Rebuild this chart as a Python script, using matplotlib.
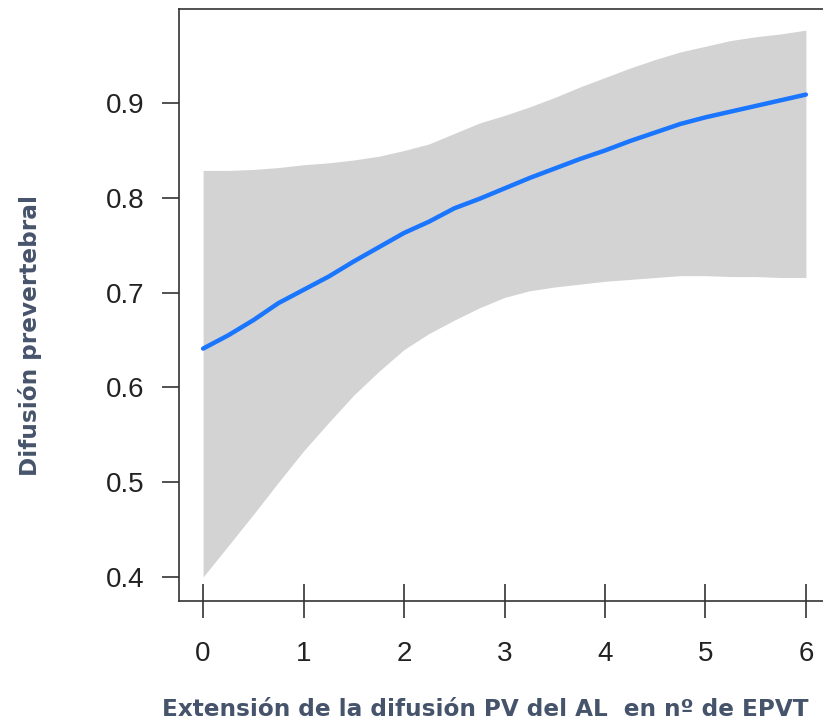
import numpy as np
import matplotlib
matplotlib.use("Agg")
import matplotlib.pyplot as plt

# values (every 0.25 along x)
x_vals = [0, 0.25, 0.5, 0.75, 1, 1.25, 1.5, 1.75, 2, 2.25, 2.5, 2.75, 3,
          3.25, 3.5, 3.75, 4, 4.25, 4.5, 4.75, 5, 5.25, 5.5, 5.75, 6]
fit = [0.641, 0.655, 0.671, 0.689, 0.703, 0.717, 0.733, 0.748, 0.763, 0.775, 0.789, 0.799, 0.810,
       0.821, 0.831, 0.841, 0.850, 0.860, 0.869, 0.878, 0.885, 0.891, 0.897, 0.903, 0.909]
upper = [0.829, 0.829, 0.830, 0.832, 0.835, 0.837, 0.840, 0.844, 0.850, 0.857, 0.868, 0.879, 0.887,
         0.896, 0.906, 0.917, 0.927, 0.937, 0.946, 0.954, 0.960, 0.966, 0.970, 0.973, 0.977]
lower = [0.400, 0.433, 0.466, 0.500, 0.533, 0.563, 0.592, 0.617, 0.640, 0.657, 0.671, 0.684, 0.695,
         0.702, 0.706, 0.709, 0.712, 0.714, 0.716, 0.718, 0.718, 0.717, 0.717, 0.716, 0.716]

x_ticks = [0, 1, 2, 3, 4, 5, 6]
y_ticks = [0.4, 0.5, 0.6, 0.7, 0.8, 0.9]
xlabel = "Extensión de la difusión PV del AL  en nº de EPVT"
ylabel = "Difusión prevertebral"

label_color = "#46546b"
W, H = 823, 724

fig = plt.figure(figsize=(W / 100, H / 100), dpi=100)
# axes box in pixels (right side runs past the picture edge, as in the reference)
left, right, top, bottom = 179, 830, 9, 601
ax = fig.add_axes([left / W, 1 - bottom / H, (right - left) / W, (bottom - top) / H])

ax.fill_between(x_vals, lower, upper, color="#d3d3d3", linewidth=0)
ax.plot(x_vals, fit, color="#1a75ff", linewidth=3.2, solid_capstyle="round")

ax.set_xlim(-0.24, 6.24)
ax.set_ylim(0.3747, 0.9993)

ax.set_xticks(x_ticks)
ax.set_xticklabels([str(t) for t in x_ticks])
ax.set_yticks(y_ticks)
ax.set_yticklabels([f"{t:.1f}" for t in y_ticks])

for s in ["left", "bottom", "top", "right"]:
    ax.spines[s].set_color("#333333")
    ax.spines[s].set_linewidth(1.2)

ax.tick_params(axis="x", direction="inout", length=25, width=1.1, color="#222222",
               pad=16, labelsize=20, labelcolor="#222222")
ax.tick_params(axis="y", direction="out", length=12, width=1.1, color="#222222",
               pad=13, labelsize=20, labelcolor="#222222")
for lab in ax.get_xticklabels() + ax.get_yticklabels():
    lab.set_fontfamily("Liberation Sans")

fig.text(485 / W, 1 - 710 / H, xlabel, ha="center", va="center",
         fontsize=16.7, fontweight="bold", color=label_color)
fig.text(30 / W, 1 - 336 / H, ylabel, ha="center", va="center", rotation=90,
         fontsize=16.7, fontweight="bold", color=label_color)

fig.savefig("out.png", dpi=100)
